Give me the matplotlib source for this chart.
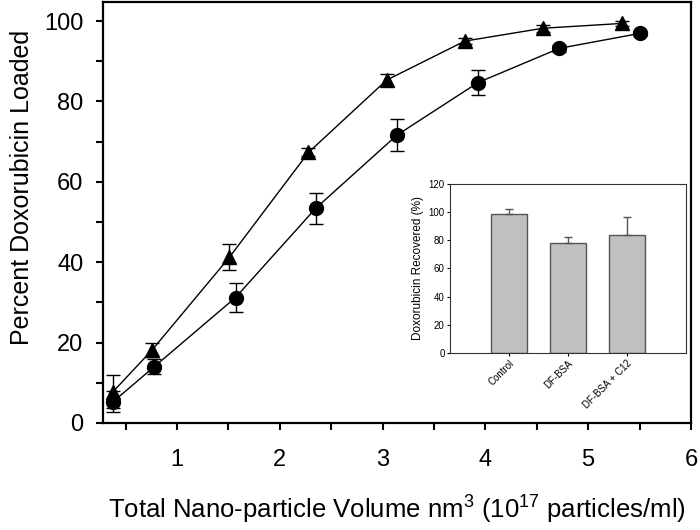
import numpy as np
import matplotlib
matplotlib.use("Agg")
import matplotlib.pyplot as plt
from matplotlib.ticker import MultipleLocator

plt.rcParams['font.family'] = ['Liberation Sans', 'DejaVu Sans']
plt.rcParams['mathtext.fontset'] = 'custom'
plt.rcParams['mathtext.rm'] = 'Liberation Sans'

# main curves
x_tri = [0.38, 0.76, 1.51, 2.28, 3.04, 3.80, 4.56, 5.33]
y_tri = [7.8, 18.2, 41.2, 67.3, 85.3, 95.0, 98.2, 99.4]
e_tri = [4.2, 1.7, 3.2, 1.0, 1.5, 0.8, 0.9, 0.6]

x_cir = [0.38, 0.78, 1.57, 2.35, 3.14, 3.93, 4.72, 5.50]
y_cir = [5.3, 14.0, 31.2, 53.4, 71.6, 84.7, 93.2, 96.9]
e_cir = [2.7, 1.8, 3.7, 3.8, 3.9, 3.1, 0.8, 0.6]

# inset bars
bar_labels = ["Control", "DF-BSA", "DF-BSA + C12"]
bar_vals = [98.7, 78.1, 83.6]
bar_errs = [3.5, 4.0, 13.0]

fig = plt.figure(figsize=(7, 5.3), dpi=100)
ax = fig.add_axes([0.147, 0.202, 0.84, 0.794])

ax.errorbar(x_tri, y_tri, yerr=e_tri, color='black', marker='^', markersize=10.5,
            linewidth=1, elinewidth=1, capsize=5, capthick=1)
ax.errorbar(x_cir, y_cir, yerr=e_cir, color='black', marker='o', markersize=10,
            linewidth=1, elinewidth=1, capsize=5, capthick=1)

ax.set_xlim(0.28, 6)
ax.set_ylim(0, 104.7)
ax.xaxis.set_major_locator(MultipleLocator(1))
ax.xaxis.set_minor_locator(MultipleLocator(0.5))
ax.yaxis.set_major_locator(MultipleLocator(20))
ax.yaxis.set_minor_locator(MultipleLocator(10))
ax.set_xticks([1, 2, 3, 4, 5, 6])
for s in ax.spines.values():
    s.set_linewidth(1.6)
ax.tick_params(which='both', direction='out', length=5, width=1.5, labelsize=17)
ax.tick_params(axis='x', which='both', pad=14)
ax.tick_params(axis='y', which='both', pad=9)
ax.set_xlabel(r"Total Nano-particle Volume nm$^\mathregular{3}$ (10$^\mathregular{17}$ particles/ml)",
              fontsize=18.5, labelpad=15)
ax.set_ylabel("Percent Doxorubicin Loaded", fontsize=18, labelpad=7, y=0.56)

# inset
ins = fig.add_axes([0.643, 0.334, 0.337, 0.319])
pos = np.arange(len(bar_labels))
ins.bar(pos, bar_vals, width=0.61, color='#c0c0c0', edgecolor='#555555',
        linewidth=1)
ins.errorbar(pos, bar_vals, yerr=[np.zeros(3), bar_errs], fmt='none',
             ecolor='#555555', elinewidth=1, capsize=3, capthick=1)
ins.set_xlim(-1, 3)
ins.set_ylim(0, 120)
ins.set_yticks([0, 20, 40, 60, 80, 100, 120])
ins.set_xticks(pos)
ins.set_xticklabels(bar_labels, rotation=45, ha='right', rotation_mode='anchor')
for s in ins.spines.values():
    s.set_linewidth(0.8)
    s.set_color('#333333')
ins.tick_params(labelsize=7, length=2, width=0.8, pad=2)
ins.set_ylabel("Doxorubicin Recovered (%)", fontsize=8.5, labelpad=3)

fig.savefig("out.png", dpi=100)
